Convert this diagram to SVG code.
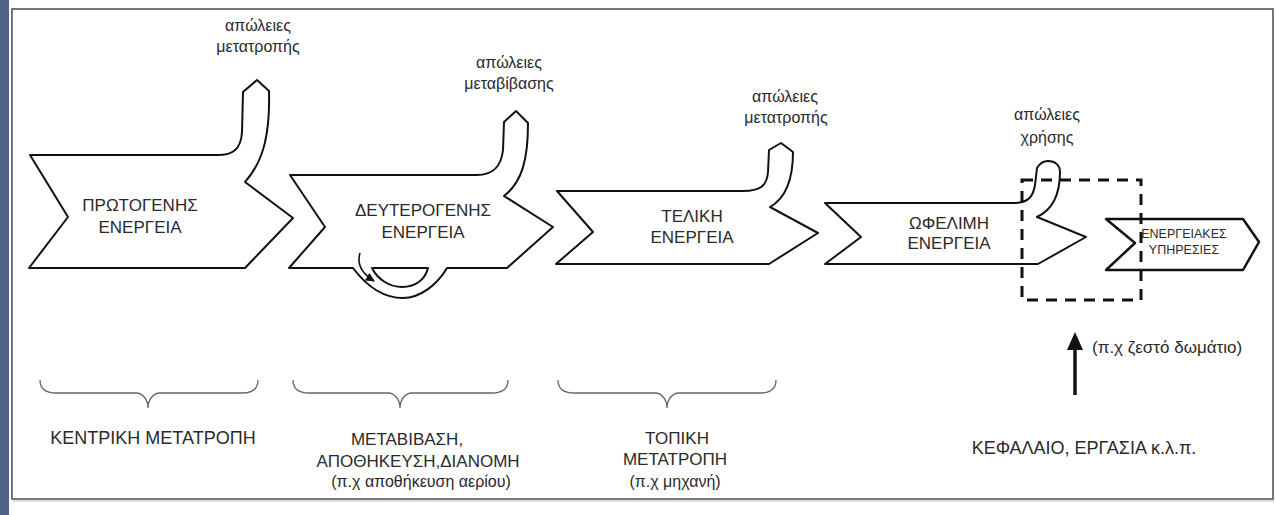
<svg xmlns="http://www.w3.org/2000/svg" width="1276" height="515" viewBox="0 0 1276 515">
<defs>
<style>
.shape{fill:#fff;stroke:#111;stroke-width:2;stroke-linejoin:round}
.lbl{font-family:"Liberation Sans",Arial,sans-serif;font-size:17px;fill:#2a2a2a;text-anchor:middle}
.loss{font-family:"Liberation Sans",Arial,sans-serif;font-size:16px;fill:#2a2a2a;text-anchor:middle}
.brace{fill:none;stroke:#666;stroke-width:1.3}
</style>
<marker id="ah" viewBox="0 0 10 10" refX="9" refY="5" markerWidth="9" markerHeight="9" markerUnits="userSpaceOnUse" orient="auto">
<path d="M0,0 L10,5 L0,10 Z" fill="#111"/>
</marker>
</defs>
<rect x="0" y="0" width="1276" height="515" fill="#fff"/>
<rect x="0" y="0" width="9" height="515" fill="#506488"/>
<rect x="12" y="9" width="1261" height="490" fill="none" stroke="#555" stroke-width="1.6"/>
<line x1="13" y1="501" x2="1274" y2="501" stroke="#bbb" stroke-width="1"/>

<g id="primary">
<path class="shape" d="M30,155 L218,155 C232,155 241,150 242,132 L243,92 L257,80 L269,91 C270,130 265,160 245,182 L293,218 L245,268 L29,268 L68,217 Z"/>
<text class="lbl" x="140" y="211">ΠΡΩΤΟΓΕΝΗΣ</text>
<text class="lbl" x="140" y="233">ΕΝΕΡΓΕΙΑ</text>
<text class="loss" x="258" y="31">απώλειες</text>
<text class="loss" x="258" y="52">μετατροπής</text>
</g>

<g id="secondary">
<path class="shape" d="M290,175 L477,175 C492,175 501,168 503,150 L504,122 L516,111 L528,123 C528,160 522,182 504,196 L553,227 L507,268 L447,268 C437,285 420,298 403,298 C385,298 368,288 353,268 L289,268 L325,227 Z"/>
<path class="shape" d="M372,268 L428,268 C425,280 415,287 402,287 C390,287 378,280 372,268 Z"/>
<text class="lbl" x="423" y="216">ΔΕΥΤΕΡΟΓΕΝΗΣ</text>
<text class="lbl" x="423" y="238">ΕΝΕΡΓΕΙΑ</text>
<text class="loss" x="509" y="68">απώλειες</text>
<text class="loss" x="509" y="89">μεταβίβασης</text>
</g>

<g id="final">
<path class="shape" d="M557,191 L743,191 C760,191 767,186 768,172 L769,150 L781,143 L793,152 C793,180 786,198 770,207 L818,233 L769,264 L556,264 L593,232 Z"/>
<text class="lbl" x="692" y="222">ΤΕΛΙΚΗ</text>
<text class="lbl" x="692" y="243">ΕΝΕΡΓΕΙΑ</text>
<text class="loss" x="785" y="102">απώλειες</text>
<text class="loss" x="786" y="123">μετατροπής</text>
</g>

<g id="useful">
<path class="shape" d="M825,203 L1013,203 C1027,203 1033,198 1035,185 L1037,168 C1040,163 1044,161 1048,161 C1055,161 1060,165 1060,172 C1060,195 1052,210 1037,217 L1086,237 L1038,264 L825,264 L861,237 Z"/>
<text class="lbl" x="949" y="229">ΩΦΕΛΙΜΗ</text>
<text class="lbl" x="949" y="249">ΕΝΕΡΓΕΙΑ</text>
<text class="loss" x="1047" y="120">απώλειες</text>
<text class="loss" x="1047" y="143">χρήσης</text>
</g>

<g id="services">
<path class="shape" style="stroke-width:2.5" d="M1106,219 L1243,219 L1259,242 L1243,270 L1106,270 L1135,243 Z"/>
<text class="lbl" style="font-size:12.5px" x="1184" y="238">ΕΝΕΡΓΕΙΑΚΕΣ</text>
<text class="lbl" style="font-size:12.5px" x="1184" y="254">ΥΠΗΡΕΣΙΕΣ</text>
</g>

<g id="boundary">
<rect x="1022" y="180" width="119" height="120" fill="none" stroke="#111" stroke-width="3" stroke-dasharray="11,8"/>
</g>

<g id="connectors">
<path d="M360,253 C357,263 361,273 374,281" fill="none" stroke="#111" stroke-width="1.6" marker-end="url(#ah)"/>
<line x1="1075" y1="395" x2="1075" y2="346" stroke="#111" stroke-width="3.5"/>
<polygon points="1075,332 1067,350 1083,350" fill="#111"/>
</g>

<g id="braces">
<path class="brace" d="M40,380 C40,389 46,393 56,393 L136,393 C143,393 148,400 148,408 C148,400 153,393 160,393 L242,393 C252,393 258,389 258,380"/>
<path class="brace" d="M293,380 C293,389 299,393 309,393 L388,393 C395,393 400,400 400,408 C400,400 405,393 412,393 L492,393 C502,393 508,389 508,380"/>
<path class="brace" d="M558,380 C558,389 564,393 574,393 L655,393 C662,393 667,400 667,408 C667,400 672,393 679,393 L760,393 C770,393 776,389 776,380"/>
</g>

<g id="bottom-labels">
<text class="lbl" style="font-size:18px" x="153" y="444">ΚΕΝΤΡΙΚΗ ΜΕΤΑΤΡΟΠΗ</text>
<text class="lbl" x="407" y="445">ΜΕΤΑΒΙΒΑΣΗ,</text>
<text class="lbl" x="418" y="467">ΑΠΟΘΗΚΕΥΣΗ,ΔΙΑΝΟΜΗ</text>
<text class="loss" x="421" y="487">(π.χ αποθήκευση αερίου)</text>
<text class="lbl" x="677" y="444">ΤΟΠΙΚΗ</text>
<text class="lbl" x="675" y="465">ΜΕΤΑΤΡΟΠΗ</text>
<text class="loss" x="675" y="487">(π.χ μηχανή)</text>
<text class="lbl" style="font-size:18px" x="1084" y="454">ΚΕΦΑΛΑΙΟ, ΕΡΓΑΣΙΑ κ.λ.π.</text>
<text class="loss" style="text-anchor:start;font-size:17px" x="1092" y="353">(π.χ ζεστό δωμάτιο)</text>
</g>
</svg>
